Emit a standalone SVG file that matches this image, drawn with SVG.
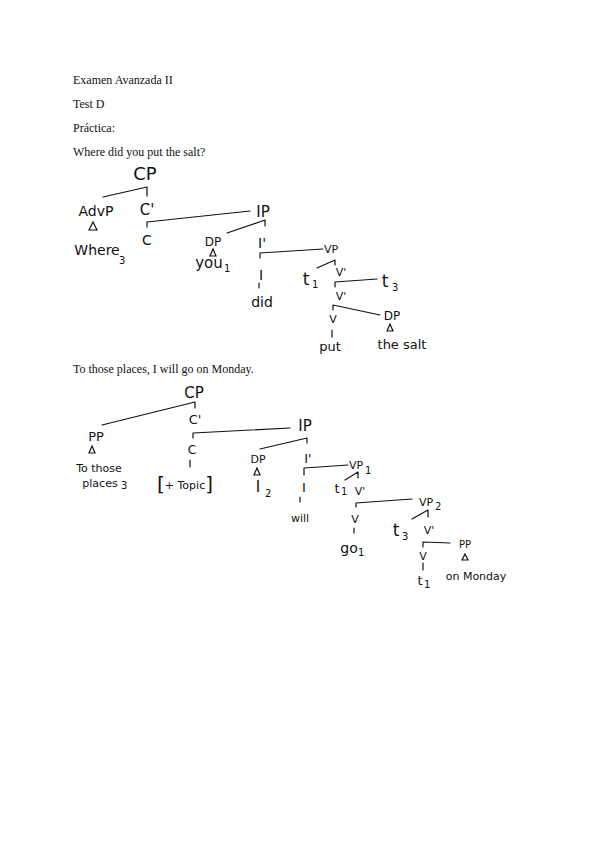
<svg xmlns="http://www.w3.org/2000/svg" width="599" height="848" viewBox="0 0 599 848">
<style>
.hd{font-family:"Liberation Serif",serif;font-size:12px;fill:#111}
.h{font-family:"DejaVu Sans","Liberation Sans",sans-serif;fill:#111;text-anchor:middle}
.s{font-family:"DejaVu Sans","Liberation Sans",sans-serif;fill:#111;font-size:10px}
.ln{stroke:#111;stroke-width:1.2;fill:none;stroke-linecap:round}
.tri{stroke:#111;stroke-width:1.2;fill:none}
</style>
<rect width="599" height="848" fill="#fff"/>
<g id="headings">
<text class="hd" x="73" y="84">Examen Avanzada II</text>
<text class="hd" x="73" y="108">Test D</text>
<text class="hd" x="73" y="132">Práctica:</text>
<text class="hd" x="73" y="156">Where did you put the salt?</text>
<text class="hd" x="73" y="373">To those places, I will go on Monday.</text>
</g>
<g id="connectors">
<path class="ln" d="M103 197 L147 187 M147 187 L147 196"/>
<path class="ln" d="M147 222 L147 227 M147 222 L250 211"/>
<path class="ln" d="M265 220 L265 226 M265 220 L227 233"/>
<path class="ln" d="M260 253 L260 258 M260 253 L323 249"/>
<path class="ln" d="M335 260 L335 265 M335 260 L317 268"/>
<path class="ln" d="M335 282 L335 287 M335 282 L377 279"/>
<path class="ln" d="M333 305 L333 310 M333 305 L380 315"/>
<path class="ln" d="M332 330 L332 337"/>
<path class="ln" d="M259 283 L259 288"/>
<path class="ln" d="M195 402 L195 408 M195 402 L102 425"/>
<path class="ln" d="M193 433 L193 438 M193 433 L290 428"/>
<path class="ln" d="M190 460 L190 467"/>
<path class="ln" d="M307 438 L307 443 M307 438 L260 449"/>
<path class="ln" d="M304 468 L304 475 M304 468 L348 465"/>
<path class="ln" d="M300 497 L300 502"/>
<path class="ln" d="M358 472 L358 478 M358 472 L345 480"/>
<path class="ln" d="M356 503 L356 507 M356 503 L412 499"/>
<path class="ln" d="M354 528 L354 533"/>
<path class="ln" d="M428 510 L428 517 M428 510 L412 519"/>
<path class="ln" d="M423 542 L423 547 M423 542 L450 543"/>
<path class="ln" d="M423 563 L423 570"/>
</g>
<g id="t1-CP"><text class="h" x="145" y="180" font-size="18">CP</text></g>
<g id="t1-AdvP"><text class="h" x="96" y="216" font-size="14">AdvP</text><path class="tri" d="M93 222 L89 230 L97 230 Z"/></g>
<g id="t1-Where"><text class="h" x="97" y="255" font-size="14">Where</text><text class="s" x="119" y="264" font-size="12">3</text></g>
<g id="t1-Cbar"><text class="h" x="147" y="215" font-size="15">C'</text></g>
<g id="t1-C"><text class="h" x="147" y="245" font-size="14">C</text></g>
<g id="t1-IP"><text class="h" x="263" y="217" font-size="15">IP</text></g>
<g id="t1-DP"><text class="h" x="213" y="246" font-size="12">DP</text><path class="tri" d="M213 249 L210 256 L216 256 Z"/></g>
<g id="t1-you"><text class="h" x="209" y="268" font-size="15">you</text><text class="s" x="224" y="272">1</text></g>
<g id="t1-Ibar"><text class="h" x="262" y="248" font-size="14">I'</text></g>
<g id="t1-VP"><text class="h" x="331" y="253" font-size="11">VP</text></g>
<g id="t1-I"><text class="h" x="261" y="280" font-size="14">I</text></g>
<g id="t1-did"><text class="h" x="262" y="307" font-size="14">did</text></g>
<g id="t1-t1"><text class="h" x="306" y="285" font-size="17">t</text><text class="s" x="312" y="288">1</text></g>
<g id="t1-Vbar1"><text class="h" x="341" y="276" font-size="11">V'</text></g>
<g id="t1-t3"><text class="h" x="385" y="287" font-size="17">t</text><text class="s" x="392" y="291">3</text></g>
<g id="t1-Vbar2"><text class="h" x="341" y="300" font-size="11">V'</text></g>
<g id="t1-DP2"><text class="h" x="392" y="320" font-size="12">DP</text><path class="tri" d="M390 324 L387 331 L393 331 Z"/></g>
<g id="t1-V"><text class="h" x="333" y="323" font-size="11">V</text></g>
<g id="t1-put"><text class="h" x="330" y="351" font-size="13">put</text></g>
<g id="t1-thesalt"><text class="h" x="402" y="349" font-size="13">the salt</text></g>
<g id="t2-CP"><text class="h" x="194" y="398" font-size="15">CP</text></g>
<g id="t2-Cbar"><text class="h" x="195" y="424" font-size="13">C'</text></g>
<g id="t2-PP"><text class="h" x="96" y="441" font-size="13">PP</text><path class="tri" d="M92 446 L89 453 L95 453 Z"/></g>
<g id="t2-tothose"><text class="h" x="99" y="472" font-size="11">To those</text><text class="h" x="100" y="487" font-size="11">places</text><text class="s" x="121" y="489" font-size="11">3</text></g>
<g id="t2-IP"><text class="h" x="305" y="431" font-size="15">IP</text></g>
<g id="t2-C"><text class="h" x="192" y="454" font-size="12">C</text></g>
<g id="t2-topic"><text class="h" x="185" y="489" font-size="11"><tspan font-size="20" dy="2">[</tspan><tspan dy="-2">+ Topic</tspan><tspan font-size="20" dy="2">]</tspan></text></g>
<g id="t2-DP"><text class="h" x="258" y="463" font-size="11">DP</text><path class="tri" d="M257 468 L254 475 L260 475 Z"/></g>
<g id="t2-I2"><text class="h" x="258" y="492" font-size="15">I</text><text class="s" x="265" y="497">2</text></g>
<g id="t2-Ibar"><text class="h" x="308" y="463" font-size="13">I'</text></g>
<g id="t2-VP1"><text class="h" x="356" y="469" font-size="11">VP</text><text class="s" x="365" y="474" font-size="8">1</text></g>
<g id="t2-I"><text class="h" x="304" y="492" font-size="13">I</text></g>
<g id="t2-will"><text class="h" x="300" y="522" font-size="11">will</text></g>
<g id="t2-t1"><text class="h" x="337" y="493" font-size="13">t</text><text class="s" x="341" y="495" font-size="8">1</text></g>
<g id="t2-Vbar1"><text class="h" x="360" y="495" font-size="11">V'</text></g>
<g id="t2-VP2"><text class="h" x="426" y="506" font-size="11">VP</text><text class="s" x="435" y="510" font-size="8">2</text></g>
<g id="t2-V1"><text class="h" x="355" y="523" font-size="11">V</text></g>
<g id="t2-go"><text class="h" x="349" y="553" font-size="14">go</text><text class="s" x="358" y="556" font-size="8">1</text></g>
<g id="t2-t3"><text class="h" x="396" y="536" font-size="17">t</text><text class="s" x="402" y="540">3</text></g>
<g id="t2-Vbar2"><text class="h" x="429" y="534" font-size="11">V'</text></g>
<g id="t2-PP2"><text class="h" x="465" y="548" font-size="10">PP</text><path class="tri" d="M465 554 L462 560 L468 560 Z"/></g>
<g id="t2-V2"><text class="h" x="423" y="560" font-size="11">V</text></g>
<g id="t2-t1b"><text class="h" x="420" y="585" font-size="13">t</text><text class="s" x="424" y="588" font-size="8">1</text></g>
<g id="t2-onmonday"><text class="h" x="476" y="580" font-size="11">on Monday</text></g>
</svg>
